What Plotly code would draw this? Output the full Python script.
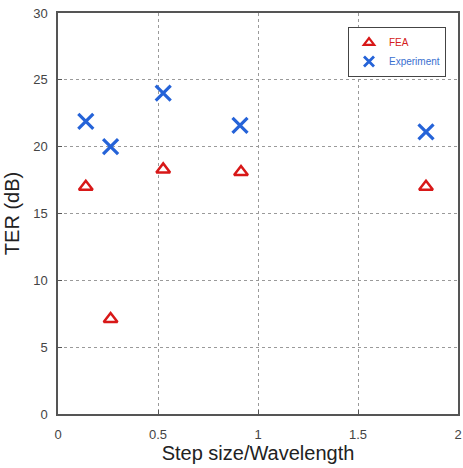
import plotly.graph_objects as go

fea_x = [0.139, 0.263, 0.526, 0.915, 1.84]
fea_y = [17.0, 7.1, 18.3, 18.1, 17.0]
exp_x = [0.139, 0.263, 0.526, 0.910, 1.84]
exp_y = [21.9, 20.0, 24.0, 21.6, 21.1]
x_ticks = [0, 0.5, 1, 1.5, 2]
x_labels = ["0", "0.5", "1", "1.5", "2"]
y_ticks = [0, 5, 10, 15, 20, 25, 30]

RED = "#d81818"
BLUE = "#2563d8"

fig = go.Figure()
fig.add_trace(go.Scatter(
    x=fea_x, y=fea_y, mode="markers", showlegend=False,
    marker=dict(symbol="triangle-up-open", size=12, color=RED,
                line=dict(width=2.5, color=RED)),
))
fig.add_trace(go.Scatter(
    x=exp_x, y=exp_y, mode="markers", showlegend=False,
    marker=dict(symbol="x-thin-open", size=15, color=BLUE,
                line=dict(width=3.2, color=BLUE)),
))
# legend-only entries with smaller symbols
fig.add_trace(go.Scatter(
    x=[None], y=[None], mode="markers",
    name="<span style='color:#d42020'>FEA</span>",
    marker=dict(symbol="triangle-up-open", size=9, color=RED,
                line=dict(width=2.2, color=RED)),
))
fig.add_trace(go.Scatter(
    x=[None], y=[None], mode="markers",
    name="<span style='color:#3a6fd0'>Experiment</span>",
    marker=dict(symbol="x-thin-open", size=10, color=BLUE,
                line=dict(width=2.8, color=BLUE)),
))

axis_common = dict(
    showline=True, linecolor="#555555", linewidth=1.5, mirror=True,
    showgrid=True, gridcolor="#9a9a9a", griddash="dot", gridwidth=1,
    zeroline=False, ticks="inside", ticklen=4, tickcolor="#555555",
    tickfont=dict(family="Liberation Sans, Arial", size=13, color="#444444"),
    automargin=False, ticklabeloverflow="allow",
)

fig.update_layout(
    width=463, height=468,
    margin=dict(l=58, r=5, t=13, b=54),
    paper_bgcolor="white", plot_bgcolor="white",
    font=dict(family="Liberation Sans, Arial", color="#222222"),
    xaxis=dict(range=[0, 2], tickvals=x_ticks, ticktext=x_labels,
               ticklabelstandoff=8,
               title=dict(text="Step size/Wavelength", font=dict(size=20, color="#222222"), standoff=4),
               **axis_common),
    yaxis=dict(range=[0, 30], tickvals=y_ticks, ticklabelstandoff=6,
               title=dict(text="TER (dB)", font=dict(size=20, color="#222222"), standoff=8),
               **axis_common),
    legend=dict(x=0.725, y=0.965, xanchor="left", yanchor="top",
                bordercolor="#444444", borderwidth=1, bgcolor="white",
                font=dict(size=10), tracegroupgap=0, itemwidth=30),
    showlegend=True,
)

fig.write_html("out.html")
